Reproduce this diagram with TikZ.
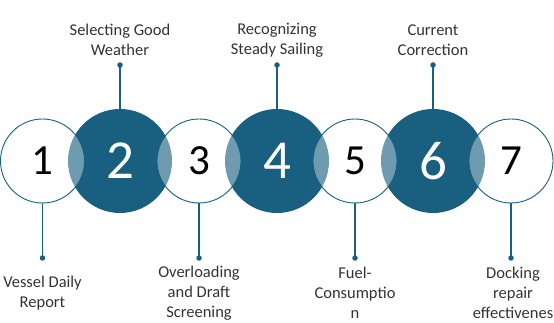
\documentclass[tikz,border=0pt]{standalone}
\usepackage{fontspec}
\setmainfont{Carlito}
\definecolor{dk}{HTML}{185F80}
\definecolor{txt}{HTML}{333333}
\begin{document}
\begin{tikzpicture}[x=1pt,y=1pt,
 darkc/.style={circle,fill=dk,minimum size=104pt,inner sep=0pt},
 lightc/.style={circle,draw=dk,line width=0.9pt,fill=white,fill opacity=0.38,minimum size=84pt,inner sep=0pt},
 numd/.style={text=white,font=\fontsize{55}{55}\selectfont},
 numl/.style={text=black,font=\fontsize{43}{43}\selectfont},
 lab/.style={text=txt,font=\fontsize{16.5}{20}\selectfont,align=center},
 conn/.style={draw=dk,line width=1.8pt},
 dotc/.style={circle,fill=dk,inner sep=0pt,minimum size=5.5pt}]
\useasboundingbox (0,0) rectangle (554,323);
% dark circles
\node[darkc] (c2) at (120,162) {};
\node[darkc] (c4) at (277,162) {};
\node[darkc] (c6) at (433,162) {};
% light circles
\node[lightc] (c1) at (42.5,162) {};
\node[lightc] (c3) at (199,162) {};
\node[lightc] (c5) at (355,162) {};
\node[lightc] (c7) at (511,162) {};
% numbers
\node[numl] (n1) at (c1) {1};
\node[numd] (n2) at (c2) {2};
\node[numl] (n3) at (c3) {3};
\node[numd] (n4) at (c4) {4};
\node[numl] (n5) at (c5) {5};
\node[numd] (n6) at (c6) {6};
\node[numl] (n7) at (c7) {7};
% dots
\node[dotc] (d1) at (42.5,65) {};
\node[dotc] (d2) at (120,258) {};
\node[dotc] (d3) at (199,65) {};
\node[dotc] (d4) at (277,258) {};
\node[dotc] (d5) at (355,65) {};
\node[dotc] (d6) at (433,258) {};
\node[dotc] (d7) at (511,65) {};
% connectors
\draw[conn] (c1.south) -- (d1.center);
\draw[conn] (c2.north) -- (d2.center);
\draw[conn] (c3.south) -- (d3.center);
\draw[conn] (c4.north) -- (d4.center);
\draw[conn] (c5.south) -- (d5.center);
\draw[conn] (c6.north) -- (d6.center);
\draw[conn] (c7.south) -- (d7.center);
% labels
\node[lab] (t2) at (120,283) {Selecting Good\\Weather};
\node[lab] (t4) at (277,283) {Recognizing\\Steady Sailing};
\node[lab] (t6) at (433,283) {Current\\Correction};
\node[lab] (t1) at (42.5,30) {Vessel Daily\\Report};
\node[lab] (t3) at (199,30) {Overloading\\and Draft\\Screening};
\node[lab] (t5) at (355,30) {Fuel-\\Consumptio\\n};
\node[lab] (t7) at (513,30) {Docking\\repair\\effectivenes};
\end{tikzpicture}
\end{document}
